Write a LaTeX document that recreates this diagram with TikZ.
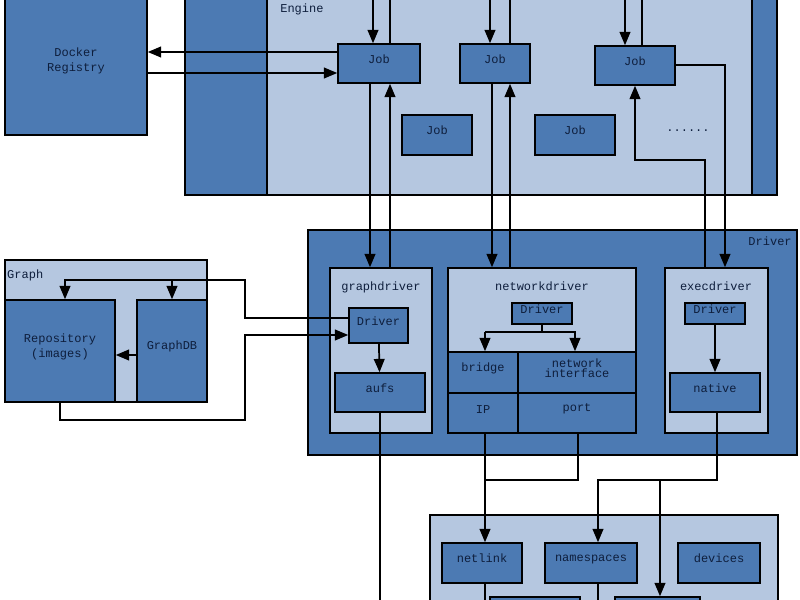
\documentclass[tikz,border=0pt]{standalone}
\usepackage{fontspec}
\setmonofont{Liberation Mono}
\usetikzlibrary{arrows,fit}
\definecolor{darkb}{HTML}{4C7AB3}
\definecolor{lightb}{HTML}{B5C7E0}
\definecolor{ink}{HTML}{0E1E3C}
\begin{document}
\begin{tikzpicture}[x=0.75pt,y=-0.75pt,>=triangle 45,line width=1.3pt,
                    font=\ttfamily\small,text=ink]

  \tikzstyle{dark}=[draw,fill=darkb,inner sep=0pt,align=center]
  \tikzstyle{light}=[draw,fill=lightb,inner sep=0pt]
  \tikzstyle{link}=[->,line width=1.3pt]

  \useasboundingbox (0,0) rectangle (800,600);

  % engine
  \node[dark,fit={(185,-5)(777,195)}] (EN) {};
  \node[light,fit={(267,-5)(752,195)}] (ENl) {};
  \node[anchor=north west] at (275,-2) {Engine};
  \node[dark,fit={(5,-5)(147,135)}] (DR) {Docker\\Registry};
  \node[dark,fit={(338,44)(420,83)}] (J1) {Job};
  \node[dark,fit={(460,44)(530,83)}] (J2) {Job};
  \node[dark,fit={(595,46)(675,85)}] (J3) {Job};
  \node[dark,fit={(402,115)(472,155)}] (J4) {Job};
  \node[dark,fit={(535,115)(615,155)}] (J5) {Job};
  \node (dots) at (688,131) {......};

  % driver
  \node[dark,fit={(308,230)(797,455)}] (DV) {};
  \node[anchor=north east] at (797,231) {Driver};
  \node[light,fit={(330,268)(432,433)}] (GD) {};
  \node[anchor=north] at (381,276) {graphdriver};
  \node[light,fit={(448,268)(636,433)}] (ND) {};
  \node[anchor=north] at (542,276) {networkdriver};
  \node[light,fit={(665,268)(768,433)}] (XD) {};
  \node[anchor=north] at (716,276) {execdriver};
  \node[dark,fit={(349,308)(408,343)}] (GDd) {Driver};
  \node[dark,fit={(335,373)(425,412)}] (aufs) {aufs};
  \node[dark,fit={(512,303)(572,324)}] (NDd) {Driver};
  \node[dark,fit={(448,352)(518,393)}] (bridge) {bridge};
  \node[dark,fit={(518,352)(636,393)}] (nif) {network\\[-3pt]interface};
  \node[dark,fit={(448,393)(518,433)}] (IP) {IP};
  \node[dark,fit={(518,393)(636,433)}] (port) {port};
  \node[dark,fit={(685,303)(745,324)}] (XDd) {Driver};
  \node[dark,fit={(670,373)(760,412)}] (native) {native};

  % graph
  \node[light,fit={(5,260)(207,402)}] (GR) {};
  \node[anchor=north west,inner sep=1pt] at (5,268) {Graph};
  \node[dark,fit={(5,300)(115,402)}] (repo) {Repository\\(images)};
  \node[dark,fit={(137,300)(207,402)}] (gdb) {GraphDB};

  % libcontainer
  \node[light,fit={(430,515)(778,610)}] (LC) {};
  \node[dark,fit={(442,543)(522,583)}] (netlink) {netlink};
  \node[dark,fit={(545,543)(637,583)}] (ns) {namespaces};
  \node[dark,fit={(678,543)(760,583)}] (dev) {devices};
  \node[dark,fit={(490,597)(580,615)}] (lc1) {};
  \node[dark,fit={(615,597)(700,615)}] (lc2) {};

  % engine links
  \draw[link] (373,0) -- (J1.north -| 373,0);
  \draw (J1.north -| 390,0) -- (390,0);
  \draw[link] (J1.west |- 0,52) -- (DR.east |- 0,52);
  \draw[link] (DR.east |- 0,73) -- (J1.west |- 0,73);
  \draw[link] (490,0) -- (J2.north -| 490,0);
  \draw (J2.north -| 510,0) -- (510,0);
  \draw[link] (625,0) -- (J3.north -| 625,0);
  \draw (J3.north -| 642,0) -- (642,0);
  \draw[link] (J1.south -| 370,0) -- (GD.north -| 370,0);
  \draw[link] (GD.north -| 390,0) -- (J1.south -| 390,0);
  \draw[link] (J2.south -| 492,0) -- (ND.north -| 492,0);
  \draw[link] (ND.north -| 510,0) -- (J2.south -| 510,0);
  \draw[link] (J3.east |- 0,65) -| (XD.north -| 725,0);
  \draw[link] (XD.north -| 705,0) |- (635,160) -- (J3.south -| 635,0);

  % graph links
  \draw[link] (GDd.west |- 0,318) -| (245,280) -| (repo.north -| 65,0);
  \draw[link] (172,280) -- (gdb.north -| 172,0);
  \draw[link] (repo.south -| 60,0) |- (245,420) |- (GDd.west |- 0,335);
  \draw[link] (gdb.west |- 0,355) -- (repo.east |- 0,355);

  % driver links
  \draw[link] (GDd) -- (aufs);
  \draw (aufs.south -| 380,0) -- (380,600);
  \draw (NDd) -- (542,332);
  \draw[link] (485,332) -- (bridge.north -| 485,0);
  \draw[link] (485,332) -- (575,332) -- (nif.north -| 575,0);
  \draw[link] (XDd.south -| 715,0) -- (native.north -| 715,0);
  \draw[link] (IP.south -| 485,0) -- (netlink.north -| 485,0);
  \draw (port.south -| 578,0) |- (485,480);
  \draw[link] (native.south -| 717,0) |- (598,480) -- (ns.north -| 598,0);
  \draw[link] (660,480) -- (lc2.north -| 660,0);
  \draw (netlink.south -| 485,0) -- (485,600);
  \draw (ns.south -| 598,0) -- (598,600);
\end{tikzpicture}
\end{document}
